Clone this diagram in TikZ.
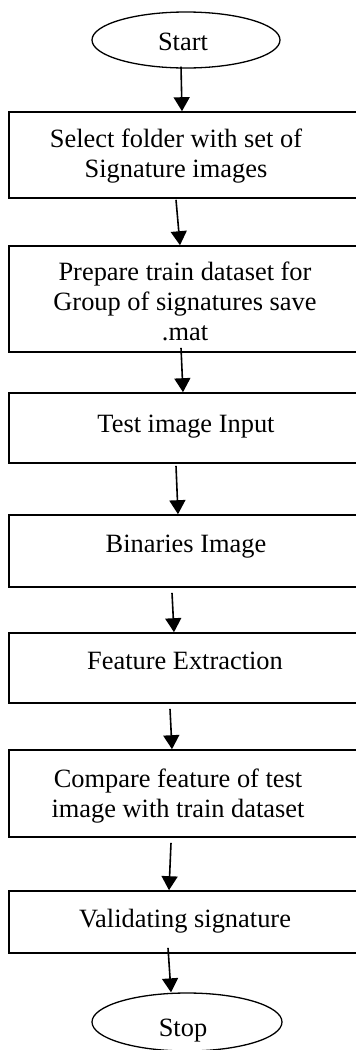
\documentclass[tikz,border=0pt]{standalone}
\usepackage{fontspec}
\setmainfont{Liberation Serif}
\usetikzlibrary{arrows.meta,shapes.geometric,calc}
\tikzset{
  stepbox/.style={draw,line width=1.6pt,rectangle,minimum width=353pt,inner sep=0pt},
  term/.style={draw,line width=1.3pt,ellipse,inner sep=0pt},
  txt/.style={font=\fontsize{26.4}{30}\selectfont,align=center,inner sep=0pt,anchor=base},
  arr/.style={line width=1.6pt,-{Triangle[length=14pt,width=16pt]}}
}
\begin{document}
\begin{tikzpicture}[x=1pt,y=-1pt]
\useasboundingbox (0,0) rectangle (356,1050);
% terminals
\node[term,minimum width=188pt,minimum height=56pt] (st) at (186,40) {};
\node[txt] (tst) at (183,50) {Start};
\node[term,minimum width=190pt,minimum height=58pt] (sp) at (187,1022) {};
\node[txt] (tsp) at (183,1036) {Stop};
% boxes
\node[stepbox,minimum height=86pt] (b1) at (185.5,155) {};
\node[stepbox,minimum height=106pt] (b2) at (185.5,299) {};
\node[stepbox,minimum height=70pt] (b3) at (185.5,428) {};
\node[stepbox,minimum height=72pt] (b4) at (185.5,551) {};
\node[stepbox,minimum height=70pt] (b5) at (185.5,668) {};
\node[stepbox,minimum height=87pt] (b6) at (185.5,793.5) {};
\node[stepbox,minimum height=62pt] (b7) at (185.5,922) {};
% texts (multi-line nodes: base = last line)
\node[txt] (t1) at (176,177) {Select folder with set of\\ Signature images};
\node[txt] (t2) at (185,340) {Prepare train dataset for\\ Group of signatures save\\ .mat};
\node[txt] (t3) at (186,432) {Test image Input};
\node[txt] (t4) at (186,552) {Binaries Image};
\node[txt] (t5) at (185,669) {Feature Extraction};
\node[txt] (t6) at (178,817) {Compare feature of test\\ image with train dataset};
\node[txt] (t7) at (185,927) {Validating signature};
% arrows
\draw[arr] ($(st.south)+(-5,-2)$) -- ($(b1.north)+(-3.5,0)$);
\draw[arr] ($(b1.south)+(-9.5,1)$) -- ($(b2.north)+(-5.5,0)$);
\draw[arr] ($(b2.south)+(-4.5,-5)$) -- ($(b3.north)+(-2.5,0)$);
\draw[arr] ($(b3.south)+(-9.5,2)$) -- ($(b4.north)+(-7.5,0)$);
\draw[arr] ($(b4.south)+(-13.5,5)$) -- ($(b5.north)+(-11.5,0)$);
\draw[arr] ($(b5.south)+(-15.5,5)$) -- ($(b6.north)+(-13.5,0)$);
\draw[arr] ($(b6.south)+(-14.5,5)$) -- ($(b7.north)+(-16.5,0)$);
\draw[arr] ($(b7.south)+(-17.5,-6)$) -- ($(sp.north)+(-16,0)$);
\end{tikzpicture}
\end{document}
